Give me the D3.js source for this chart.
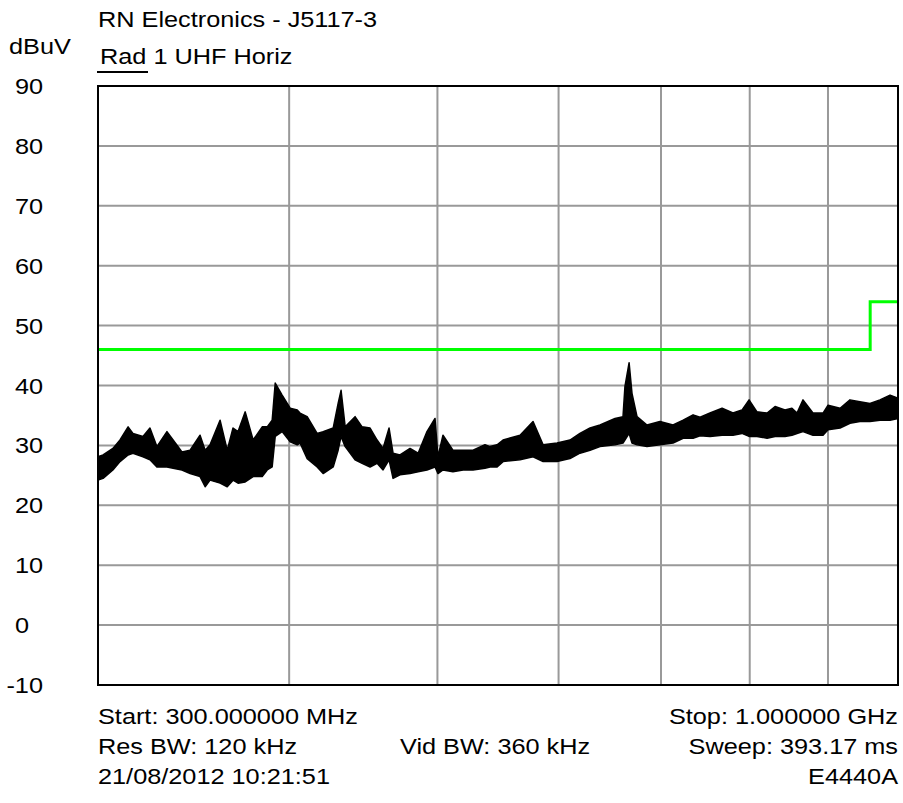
<!DOCTYPE html>
<html>
<head>
<meta charset="utf-8">
<script src="https://cdn.jsdelivr.net/npm/d3@7"></script>
<style>
  body { margin: 0; background: #fff; }
  svg text { font-family: "Liberation Sans", Arial, sans-serif; font-size: 22px; fill: #000; }
</style>
</head>
<body>
<div id="chart"></div>
<script>
// sweep (MHz / dBuV, upper and lower edge of the noisy trace)
const freqMHz = [300, 302.3, 306.8, 310.1, 313.9, 316.2, 321.0, 324.4, 327.8, 332.8, 335.9, 340.4, 344.6, 349.8, 352.5, 355.1, 360.5, 364.4, 367.6, 370.4, 374.4, 378.9, 384.1, 387.0, 389.9, 391.7, 395.8, 400.6, 404.9, 406.6, 411.0, 417.2, 421.0, 427.4, 430.6, 432.5, 435.2, 441.7, 446.4, 451.8, 456.6, 460.7, 464.9, 467.7, 472.6, 479.8, 485.7, 492.2, 498.2, 500.4, 504.2, 511.8, 519.7, 527.5, 537.1, 541.2, 547.0, 551.9, 566.2, 577.4, 586.2, 598.6, 610.4, 619.6, 629.1, 638.6, 653.2, 661.1, 663.0, 667.2, 670.1, 675.2, 685.4, 698.9, 712.8, 723.7, 734.6, 742.4, 753.6, 767.4, 780.1, 790.7, 799.2, 808.8, 821.2, 831.1, 843.6, 852.5, 859.0, 866.8, 879.9, 893.3, 900.1, 916.5, 930.3, 944.3, 958.7, 973.2, 988.1, 1000];
const traceMax = [28.1, 28.4, 29.5, 30.9, 33.1, 32.0, 31.5, 32.9, 29.8, 32.3, 30.9, 28.9, 29.2, 31.7, 29.2, 30.1, 34.2, 29.2, 32.9, 32.3, 35.6, 30.9, 33.1, 33.1, 34.2, 40.4, 38.4, 36.2, 35.9, 35.4, 34.8, 32.0, 32.3, 32.9, 37.0, 39.2, 33.1, 34.8, 33.1, 32.9, 30.9, 29.5, 32.9, 28.7, 28.4, 29.5, 28.7, 32.3, 34.5, 28.1, 31.7, 29.2, 29.2, 29.2, 30.1, 29.8, 30.1, 30.9, 31.7, 34.0, 30.1, 30.4, 30.9, 32.0, 32.9, 33.4, 34.5, 34.8, 39.8, 43.8, 38.7, 34.8, 33.4, 34.0, 33.4, 34.2, 35.1, 34.7, 35.4, 36.2, 35.4, 35.9, 37.6, 35.6, 35.4, 36.5, 35.9, 36.2, 35.4, 37.6, 35.4, 35.4, 36.7, 36.2, 37.6, 37.3, 37.0, 37.6, 38.4, 37.9];
const traceMin = [24.2, 24.5, 25.9, 27.3, 28.4, 28.7, 28.1, 27.6, 26.4, 26.4, 26.2, 25.9, 25.3, 24.8, 23.1, 24.2, 23.7, 23.1, 24.2, 23.7, 23.9, 24.8, 24.8, 25.9, 26.4, 31.5, 32.3, 30.6, 30.1, 30.4, 27.8, 26.4, 25.3, 26.4, 29.2, 31.5, 29.8, 27.6, 27.0, 26.4, 27.0, 25.9, 27.6, 24.5, 25.1, 25.3, 25.6, 25.9, 26.4, 25.3, 25.9, 25.6, 25.9, 25.9, 26.2, 26.4, 26.4, 27.3, 27.6, 28.1, 27.3, 27.3, 27.8, 28.7, 29.2, 29.8, 30.1, 30.4, 30.9, 32.0, 30.4, 30.1, 29.8, 30.1, 30.4, 31.2, 31.2, 31.6, 31.5, 31.7, 31.7, 32.0, 31.5, 31.5, 31.2, 31.5, 31.5, 31.7, 32.0, 32.3, 31.7, 31.7, 32.6, 32.9, 33.7, 34.0, 34.0, 34.2, 34.2, 34.5];

// limit line
const limitFreq = [300, 959, 959, 1000];
const limitLevel = [46, 46, 54, 54];

const yTicks = [90, 80, 70, 60, 50, 40, 30, 20, 10, 0, -10];
const gridFreqs = [400, 500, 600, 700, 800, 900];

const width = 903;
const height = 803;
const plot = { left: 98, right: 898, top: 86, bottom: 685 };

const svg = d3.select('#chart')
  .append('svg')
  .attr('width', width)
  .attr('height', height);

const x = d3.scaleLog().domain([300, 1000]).range([plot.left, plot.right]);
const y = d3.scaleLinear().domain([-10, 90]).range([plot.bottom, plot.top]);

// text is slightly wider than the font's own proportions
function label(px, py, str, anchor) {
  svg.append('text')
    .attr('transform', `translate(${px},${py}) scale(1.15,1)`)
    .attr('text-anchor', anchor || 'start')
    .text(str);
}

// grid
svg.append('g')
  .selectAll('line')
  .data(yTicks.slice(1, -1))
  .join('line')
  .attr('x1', plot.left).attr('x2', plot.right)
  .attr('y1', d => y(d)).attr('y2', d => y(d))
  .attr('stroke', '#999').attr('stroke-width', 2);

svg.append('g')
  .selectAll('line')
  .data(gridFreqs)
  .join('line')
  .attr('x1', d => x(d)).attr('x2', d => x(d))
  .attr('y1', plot.top).attr('y2', plot.bottom)
  .attr('stroke', '#999').attr('stroke-width', 2);

// trace
const trace = freqMHz.map((f, i) => ({ f, hi: traceMax[i], lo: traceMin[i] }));

svg.append('path')
  .datum(trace)
  .attr('d', d3.area().x(d => x(d.f)).y0(d => y(d.lo)).y1(d => y(d.hi)))
  .attr('fill', '#000')
  .attr('stroke', '#000')
  .attr('stroke-width', 1.5)
  .attr('stroke-linejoin', 'round');

// limit
svg.append('path')
  .datum(limitFreq.map((f, i) => [f, limitLevel[i]]))
  .attr('d', d3.line().x(d => x(d[0])).y(d => y(d[1])))
  .attr('fill', 'none')
  .attr('stroke', '#00ff00')
  .attr('stroke-width', 3);

// frame
svg.append('rect')
  .attr('x', plot.left).attr('y', plot.top)
  .attr('width', plot.right - plot.left).attr('height', plot.bottom - plot.top)
  .attr('fill', 'none')
  .attr('stroke', '#000')
  .attr('stroke-width', 2);

// y labels
yTicks.forEach(d => {
  if (d < 0) label(43, y(d) + 8, d, 'end');
  else label(15, y(d) + 8, d, 'start');
});

// header
label(98, 27, 'RN Electronics - J5117-3');
label(9, 54, 'dBuV');
label(100, 64, 'Rad 1 UHF Horiz');
svg.append('line')
  .attr('x1', 97).attr('x2', 148)
  .attr('y1', 72).attr('y2', 72)
  .attr('stroke', '#000').attr('stroke-width', 2);

// footer
label(98, 724, 'Start: 300.000000 MHz');
label(898, 724, 'Stop: 1.000000 GHz', 'end');
label(98, 754, 'Res BW: 120 kHz');
label(400, 754, 'Vid BW: 360 kHz');
label(898, 754, 'Sweep: 393.17 ms', 'end');
label(98, 784, '21/08/2012 10:21:51');
label(898, 784, 'E4440A', 'end');
</script>
</body>
</html>
